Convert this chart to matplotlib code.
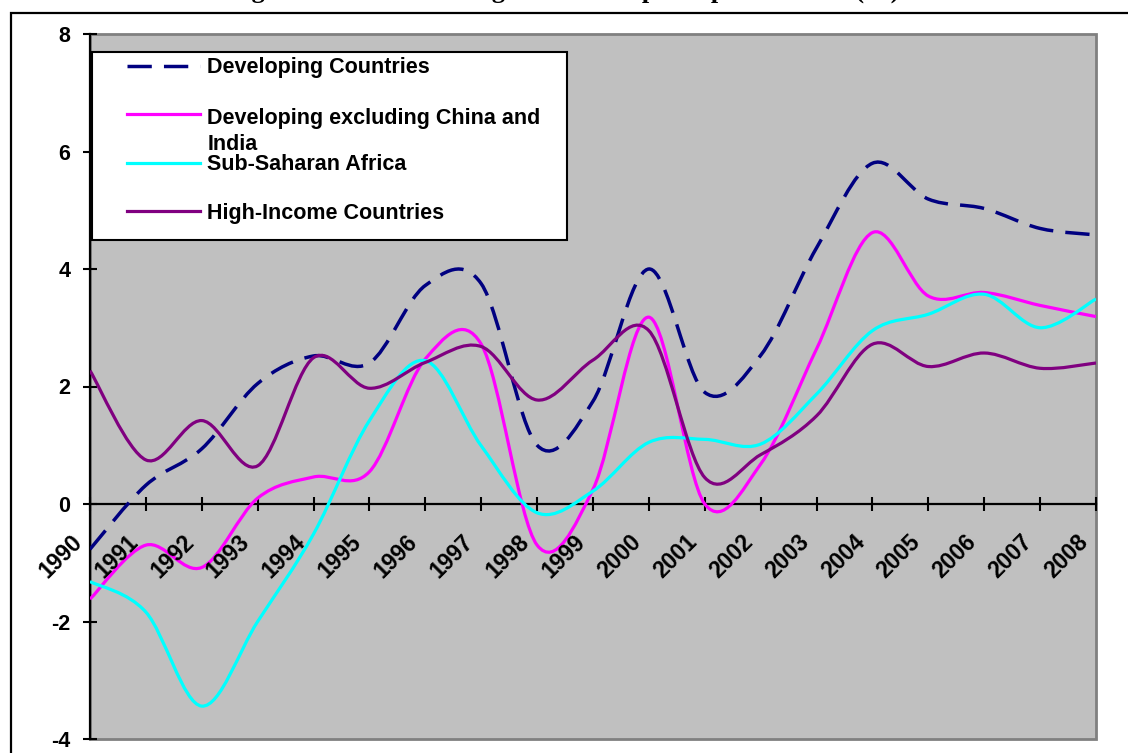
import numpy as np
import matplotlib.pyplot as plt
from matplotlib.path import Path
from matplotlib.patches import PathPatch, Rectangle
from matplotlib import transforms

plt.rcParams['font.family'] = ['Liberation Sans', 'DejaVu Sans']
plt.rcParams['axes.unicode_minus'] = False

years = list(range(1990, 2009))
developing = [-0.77, 0.32, 0.94, 2.05, 2.52, 2.40, 3.72, 3.75, 1.00, 1.75,
              4.00, 1.90, 2.53, 4.36, 5.80, 5.19, 5.03, 4.69, 4.58]
dev_ex_china_india = [-1.62, -0.70, -1.08, 0.10, 0.46, 0.55, 2.47, 2.72, -0.70, 0.25,
                      3.18, 0.00, 0.68, 2.64, 4.62, 3.54, 3.60, 3.38, 3.19]
ssa = [-1.32, -1.84, -3.44, -2.00, -0.51, 1.42, 2.44, 0.99, -0.15, 0.22,
       1.05, 1.10, 1.02, 1.87, 2.95, 3.23, 3.57, 3.00, 3.49]
high_income = [2.27, 0.75, 1.42, 0.65, 2.49, 1.97, 2.41, 2.68, 1.77, 2.45,
               2.95, 0.45, 0.84, 1.50, 2.72, 2.34, 2.57, 2.31, 2.40]

names = ['Developing Countries', 'Developing excluding China and\nIndia',
         'Sub-Saharan Africa', 'High-Income Countries']
colors = ['#000080', '#FF00FF', '#00FFFF', '#800080']
dashed = (0, (7, 3.5))
styles = [dashed, '-', '-', '-']


def smooth_path(x, y):
    # excel style smoothed line: cubic bezier through every point
    x = np.asarray(x, float)
    y = np.asarray(y, float)
    px = np.concatenate([[x[0]], x, [x[-1]]])
    py = np.concatenate([[y[0]], y, [y[-1]]])
    verts = [(x[0], y[0])]
    codes = [Path.MOVETO]
    for i in range(len(x) - 1):
        c1 = (x[i] + (px[i + 2] - px[i]) / 6, y[i] + (py[i + 2] - py[i]) / 6)
        c2 = (x[i + 1] - (px[i + 3] - px[i + 1]) / 6, y[i + 1] - (py[i + 3] - py[i + 1]) / 6)
        verts += [c1, c2, (x[i + 1], y[i + 1])]
        codes += [Path.CURVE4] * 3
    return Path(verts, codes)


fig = plt.figure(figsize=(11.28, 7.53), dpi=100)
W, H = 1128, 753

# outer frame, runs off the right and bottom edge
fig.add_artist(Rectangle((11 / W, -0.5), 2, 1 - 13 / H + 0.5, transform=fig.transFigure,
                         fill=False, edgecolor='black', lw=1.6))
fig.text(0.5, 1.0 + 2 / H, 'Figure 1: Annual Average Real GDP per capita Growth (%)',
         ha='center', va='baseline', fontsize=19, fontweight='bold',
         family=['Liberation Serif', 'DejaVu Serif'])

ax = fig.add_axes([90 / W, 1 - 739 / H, 1006 / W, 705 / H])
ax.set_facecolor('#C0C0C0')
ax.add_patch(Rectangle((0, 0), 1, 1, transform=ax.transAxes, fill=False,
                       edgecolor='#808080', lw=2, clip_on=False, zorder=1))

series = [developing, dev_ex_china_india, ssa, high_income]
for vals, c, ls in zip(series, colors, styles):
    lw = 2.5 if ls is dashed else 2.3
    ax.add_patch(PathPatch(smooth_path(years, vals), fill=False, edgecolor=c,
                           lw=lw, linestyle=ls, capstyle='butt', zorder=3))

ax.set_xlim(1990, 2008)
ax.set_ylim(-4, 8)
ax.set_yticks(range(-4, 9, 2))
ax.set_xticks(years)
ax.set_xticklabels([])

for s in ['top', 'right']:
    ax.spines[s].set_visible(False)
ax.spines['left'].set_linewidth(1.6)
ax.spines['bottom'].set_position(('data', 0))
ax.spines['bottom'].set_linewidth(1.6)
ax.spines['bottom'].set_zorder(2.5)
ax.tick_params(axis='both', direction='inout', length=10, width=1.5)
ax.tick_params(axis='y', pad=9, labelsize=15.5)
for lab in ax.get_yticklabels():
    lab.set_fontweight('bold')

# year labels hang below the zero line, tilted
off = transforms.ScaledTranslation(-14 / 72, -19 / 72, fig.dpi_scale_trans)
for yr in years:
    ax.text(yr, 0, str(yr), rotation=45, rotation_mode='anchor', ha='right', va='top',
            fontsize=16.5, fontweight='bold', transform=ax.transData + off, clip_on=False)


# legend box
def ay(py):
    return 1 - (py - 34) / 705


ax.add_patch(Rectangle(((92 - 90) / 1006, ay(240)), (567 - 92) / 1006, ay(52) - ay(240),
                       transform=ax.transAxes, facecolor='white', edgecolor='black',
                       lw=1.5, zorder=5))
rows = [65.5, 114, 162.5, 211]
for name, c, ls, r in zip(names, colors, styles, rows):
    ax.plot([(126.7 - 90) / 1006, (200 - 90) / 1006], [ay(r), ay(r)], color=c,
            lw=2.5 if ls is dashed else 2.3, linestyle=ls, dash_capstyle='butt',
            transform=ax.transAxes, zorder=6, clip_on=False)
    # two-line label: baseline goes on its last line
    base = r + 7.7 + 28.7 * name.count('\n')
    ax.text((207.3 - 90) / 1006, ay(base), name, transform=ax.transAxes,
            ha='left', va='baseline', fontsize=15.5, fontweight='bold', zorder=6,
            linespacing=1.32)

fig.savefig('out.png', dpi=100)
